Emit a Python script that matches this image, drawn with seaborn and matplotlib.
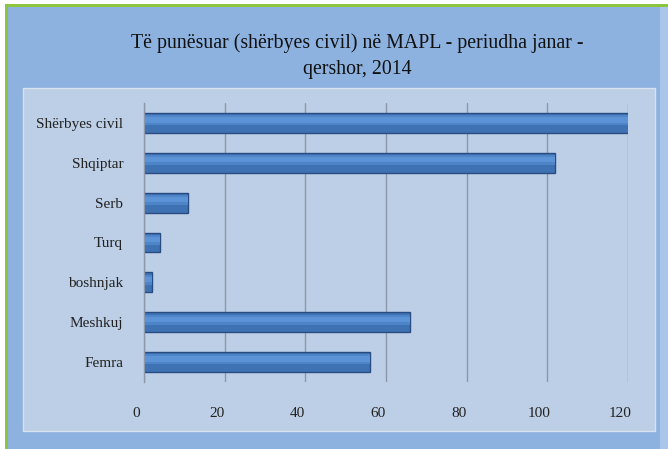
import pandas as pd
import matplotlib.pyplot as plt
import matplotlib.transforms as mtransforms
from matplotlib.patches import Rectangle
import seaborn as sns

# data
categories = ["Shërbyes civil", "Shqiptar", "Serb", "Turq", "boshnjak", "Meshkuj", "Femra"]
values = [121, 102, 11, 4, 2, 66, 56]
x_ticks = [0, 20, 40, 60, 80, 100, 120]

title = "Të punësuar (shërbyes civil) në MAPL - periudha janar -\nqershor, 2014"

df = pd.DataFrame({"Kategoria": categories, "Numri": values})

sns.set_style("white")
plt.rcParams["font.family"] = ["Liberation Serif", "DejaVu Serif"]

outer_blue = "#8DB2E0"
panel_blue = "#BDCFE6"
bar_blue = "#3F72B3"
grid_col = "#8C98AA"

fig = plt.figure(figsize=(6.68, 4.49), dpi=100)
fig.patch.set_facecolor(outer_blue)

W, H = 668, 449

# white margin and green frame (top and left)
fig.patches.append(Rectangle((0, 1 - 4 / H), 1, 4 / H, transform=fig.transFigure,
                             facecolor="white", edgecolor="none", zorder=0))
fig.patches.append(Rectangle((0, 0), 5 / W, 1, transform=fig.transFigure,
                             facecolor="white", edgecolor="none", zorder=0))
fig.patches.append(Rectangle((5 / W, 0), 2.5 / W, 1 - 4 / H, transform=fig.transFigure,
                             facecolor="#8CC63E", edgecolor="none", zorder=1))
fig.patches.append(Rectangle((5 / W, 1 - 7 / H), 1, 3 / H, transform=fig.transFigure,
                             facecolor="#8CC63E", edgecolor="none", zorder=1))
# lighter strip at the right edge
fig.patches.append(Rectangle((660 / W, 0), 8 / W, 1 - 7 / H, transform=fig.transFigure,
                             facecolor="#A9C6EA", edgecolor="none", zorder=1))

# light plot panel
fig.patches.append(Rectangle((23 / W, 1 - 431 / H), (655 - 23) / W, (431 - 88) / H,
                             transform=fig.transFigure, facecolor=panel_blue,
                             edgecolor="#D6E2F0", linewidth=1, zorder=1))

left, right = 144 / W, 628 / W
bottom, top = 1 - 382 / H, 1 - 103 / H
ax = fig.add_axes([left, bottom, right - left, top - bottom])
ax.set_facecolor("none")
ax.set_zorder(5)

sns.barplot(data=df, x="Numri", y="Kategoria", orient="h", color=bar_blue,
            width=0.5, edgecolor="#284C80", linewidth=1.0, saturation=1, ax=ax)

# lighter bands for the cylinder look
for p in list(ax.patches):
    y0 = p.get_y()
    h = p.get_height()
    z = p.get_zorder()
    ax.add_patch(Rectangle((p.get_x(), y0 + h * 0.12), p.get_width(), h * 0.5,
                           facecolor="#4E85C8", edgecolor="none", zorder=z + 0.1))
    ax.add_patch(Rectangle((p.get_x(), y0 + h * 0.22), p.get_width(), h * 0.26,
                           facecolor="#5C93D6", edgecolor="none", zorder=z + 0.2))

ax.set_xlim(0, 120)
ax.set_xticks(x_ticks)
ax.set_xticklabels([str(t) for t in x_ticks], fontsize=11, color="#222222")
ax.set_xlabel("")
ax.set_ylabel("")
ax.tick_params(axis="y", length=0, pad=15, labelsize=11, labelcolor="#222222")
ax.tick_params(axis="x", length=0, pad=18)

offset = mtransforms.ScaledTranslation(-8 / 100, 0, fig.dpi_scale_trans)
for lab in ax.get_xticklabels():
    lab.set_transform(lab.get_transform() + offset)

ax.grid(axis="x", color=grid_col, linewidth=1)
ax.set_axisbelow(True)
for s in ["top", "right", "bottom"]:
    ax.spines[s].set_visible(False)
ax.spines["left"].set_color(grid_col)
ax.spines["left"].set_linewidth(1)

fig.text(357 / W, 1 - 56 / H, title, ha="center", va="center", fontsize=14.3,
         color="#111111", linespacing=1.55)

plt.savefig("out.png", dpi=100, facecolor=fig.get_facecolor())
plt.close()
